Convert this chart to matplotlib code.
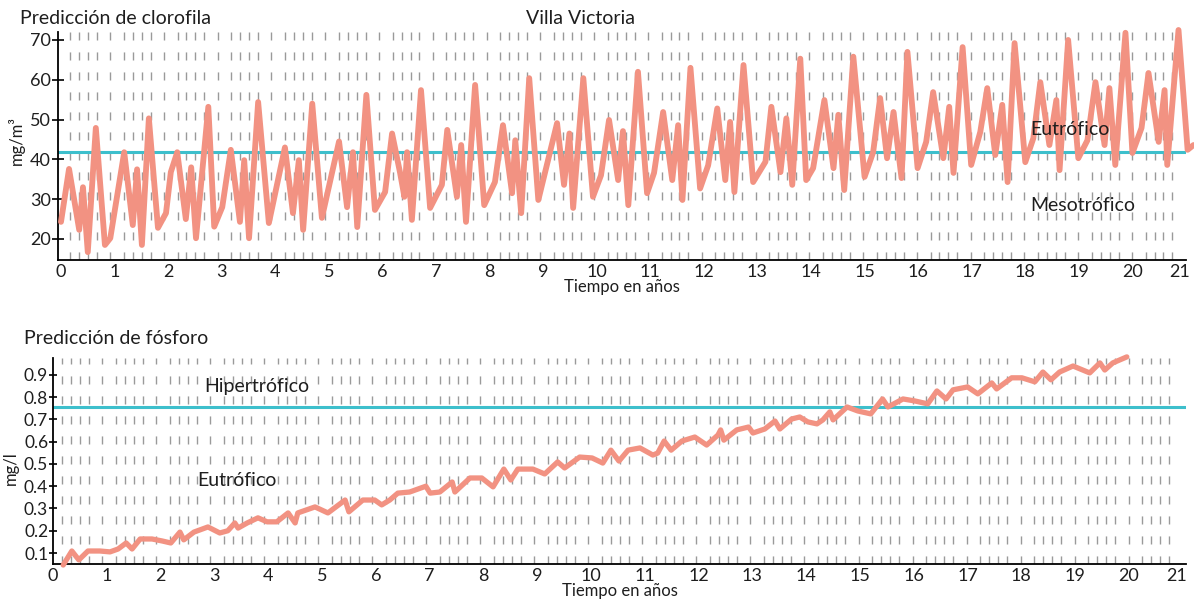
import matplotlib
matplotlib.use("Agg")
import matplotlib.pyplot as plt
import matplotlib.transforms as mtransforms
import numpy as np

plt.rcParams['font.family'] = ['Lato', 'DejaVu Sans']
plt.rcParams['lines.scale_dashes'] = False

# chlorophyll prediction (years, mg/m3)
chl_years = [0.00, 0.15, 0.34, 0.41, 0.50, 0.65, 0.82, 0.92, 1.18, 1.34, 1.42, 1.51, 1.64, 1.81,
             1.96, 2.05, 2.17, 2.33, 2.43, 2.52, 2.75, 2.86, 3.01, 3.17, 3.34, 3.42, 3.51, 3.68,
             3.88, 4.18, 4.33, 4.44, 4.52, 4.69, 4.87, 5.19, 5.34, 5.45, 5.53, 5.70, 5.86, 6.05,
             6.18, 6.33, 6.41, 6.46, 6.55, 6.72, 6.89, 7.11, 7.21, 7.39, 7.47, 7.56, 7.73, 7.90,
             8.10, 8.25, 8.42, 8.48, 8.59, 8.74, 8.91, 9.26, 9.39, 9.49, 9.56, 9.75, 9.93, 10.08,
             10.23, 10.40, 10.49, 10.59, 10.77, 10.94, 11.07, 11.24, 11.41, 11.52, 11.60, 11.75,
             11.93, 12.08, 12.25, 12.40, 12.49, 12.57, 12.74, 12.92, 13.15, 13.26, 13.43, 13.54,
             13.65, 13.80, 13.91, 14.04, 14.25, 14.42, 14.51, 14.62, 14.79, 15.00, 15.16, 15.29,
             15.42, 15.54, 15.69, 15.80, 15.99, 16.15, 16.28, 16.47, 16.58, 16.66, 16.83, 16.99,
             17.16, 17.29, 17.44, 17.57, 17.67, 17.80, 18.00, 18.15, 18.28, 18.45, 18.58, 18.64,
             18.80, 18.99, 19.16, 19.31, 19.48, 19.57, 19.68, 19.87, 20.00, 20.17, 20.30, 20.49,
             20.60, 20.65, 20.86, 21.03, 21.14]
chl_values = [24.3, 37.6, 22.3, 33.0, 16.7, 47.9, 18.5, 20.2, 41.8, 23.5, 37.5, 18.5, 50.3, 22.8,
              26.5, 36.8, 41.8, 25.0, 38.0, 20.2, 53.2, 23.1, 28.0, 42.4, 24.3, 39.8, 20.2, 54.4,
              24.0, 43.0, 26.5, 39.8, 22.3, 54.0, 25.3, 44.5, 28.0, 41.8, 23.0, 56.2, 27.3, 31.8,
              46.5, 36.6, 30.6, 41.8, 24.8, 57.4, 27.8, 33.6, 47.4, 30.6, 43.6, 24.3, 58.7, 28.5,
              34.3, 48.6, 31.5, 44.8, 26.5, 60.4, 29.8, 49.1, 33.6, 46.5, 27.8, 60.4, 30.6, 36.0,
              49.9, 34.8, 47.1, 28.5, 62.0, 31.5, 36.6, 51.9, 34.8, 48.6, 29.8, 63.0,
              32.7, 38.5, 52.8, 34.8, 49.4, 31.8, 63.7, 34.3, 39.4, 53.2, 36.8, 50.3,
              33.6, 65.3, 34.8, 37.8, 54.9, 37.8, 51.2, 32.3, 65.8, 35.6, 41.8, 55.4,
              40.3, 51.9, 35.3, 67.0, 37.8, 44.4, 56.9, 40.3, 53.2, 36.6, 68.2, 38.6,
              46.9, 57.9, 41.1, 53.7, 34.3, 69.2, 39.3, 45.3, 59.4, 43.6, 54.9, 37.3,
              70.0, 40.3, 44.8, 59.4, 43.6, 57.9, 38.6, 71.8, 41.6, 47.9, 61.7, 44.4,
              57.4, 38.6, 72.5, 42.4, 43.6]

# phosphorus prediction (years, mg/l)
p_years = [0.19, 0.35, 0.48, 0.65, 0.87, 1.06, 1.21, 1.36, 1.47, 1.62, 1.84, 2.03, 2.19, 2.36,
           2.43, 2.62, 2.88, 3.10, 3.25, 3.38, 3.44, 3.61, 3.81, 3.98, 4.16, 4.37, 4.50, 4.55,
           4.87, 5.11, 5.43, 5.50, 5.76, 5.98, 6.11, 6.26, 6.41, 6.63, 6.93, 7.01, 7.19, 7.42,
           7.47, 7.75, 7.97, 8.18, 8.38, 8.51, 8.64, 8.92, 9.14, 9.38, 9.51, 9.79, 10.02, 10.22,
           10.37, 10.52, 10.69, 10.91, 11.15, 11.24, 11.36, 11.49, 11.69, 11.93, 12.15, 12.36,
           12.41, 12.47, 12.71, 12.93, 13.01, 13.23, 13.42, 13.51, 13.73, 13.88, 14.03, 14.20,
           14.31, 14.44, 14.50, 14.76, 14.96, 15.20, 15.42, 15.52, 15.80, 16.02, 16.26, 16.43,
           16.60, 16.73, 17.00, 17.19, 17.45, 17.54, 17.82, 18.01, 18.25, 18.40, 18.55, 18.71,
           18.96, 19.27, 19.46, 19.55, 19.70, 19.96]
p_values = [0.046, 0.109, 0.069, 0.109, 0.109, 0.105, 0.118, 0.145, 0.118, 0.163, 0.163, 0.154,
            0.145, 0.194, 0.159, 0.194, 0.217, 0.190, 0.200, 0.235, 0.212, 0.235, 0.258, 0.240,
            0.240, 0.280, 0.235, 0.280, 0.307, 0.280, 0.338, 0.285, 0.338, 0.338, 0.316, 0.338,
            0.369, 0.374, 0.400, 0.369, 0.374, 0.419, 0.374, 0.437, 0.437, 0.397, 0.477, 0.428,
            0.477, 0.477, 0.455, 0.509, 0.482, 0.531, 0.527, 0.504, 0.562, 0.513, 0.562, 0.572,
            0.540, 0.549, 0.603, 0.562, 0.603, 0.621, 0.585, 0.630, 0.653, 0.607, 0.653, 0.666,
            0.639, 0.657, 0.693, 0.657, 0.702, 0.711, 0.689, 0.680, 0.698, 0.734, 0.698, 0.756,
            0.738, 0.725, 0.792, 0.756, 0.792, 0.783, 0.770, 0.828, 0.792, 0.833, 0.846, 0.815,
            0.864, 0.837, 0.887, 0.887, 0.869, 0.913, 0.878, 0.913, 0.940, 0.909, 0.954, 0.922,
            0.954, 0.981]

chl_threshold = 41.9
p_threshold = 0.755

# sampling months marked by the dashed lines
sample_months = [2, 4, 6, 8, 11]
years = np.arange(21)
sample_dates = (years[:, None] + np.array(sample_months) / 12 + 0.004 * years[:, None]).ravel()
sample_dates = sample_dates[sample_dates < 20.8]

salmon = '#F29282'
cyan = '#3DBFCC'
grey = '#9a9a9a'
ink = '#1e1e1e'

fig = plt.figure(figsize=(11.94, 6.07), dpi=100)
ax1 = fig.add_axes([58 / 1194, 1 - 260 / 607, 1128 / 1194, 228 / 607])
ax2 = fig.add_axes([53 / 1194, 1 - 564 / 607, 1133 / 1194, 206 / 607])


def style_axis(ax, ylim, xlim, yticks, fmt, ticklen, ylabelsize):
    ax.set_xlim(*xlim)
    ax.set_ylim(*ylim)
    for s in ['top', 'right']:
        ax.spines[s].set_visible(False)
    for s in ['left', 'bottom']:
        ax.spines[s].set_linewidth(1.3)
    ax.set_xticks(range(22))
    ax.set_yticks(yticks)
    ax.set_yticklabels([fmt.format(v) for v in yticks])
    ax.tick_params(axis='x', length=0, pad=3, labelsize=13, labelcolor=ink)
    ax.tick_params(axis='y', direction='inout', length=ticklen, width=1.2, pad=0.5,
                   labelsize=ylabelsize, labelcolor=ink)
    ax.vlines(sample_dates, ylim[0], ylim[1], colors=grey, linewidth=1.0,
              linestyles=(0, (5.8, 8.6)), zorder=1)
    ax.set_xlabel('Tiempo en años', fontsize=12, labelpad=-1, color=ink)
    # keep the last year label inside the figure
    last = ax.get_xticklabels()[-1]
    last.set_horizontalalignment('right')
    last.set_transform(last.get_transform() +
                       mtransforms.ScaledTranslation(3 / 72, 0, fig.dpi_scale_trans))


style_axis(ax1, (14.72, 72.0), (-0.056, 21.0), [20, 30, 40, 50, 60, 70], '{:.0f}', 9, 13)
ax1.axhline(chl_threshold, color=cyan, linewidth=2.2, zorder=2)
ax1.plot(chl_years, chl_values, color=salmon, linewidth=4.2, solid_joinstyle='round',
         solid_capstyle='round', zorder=3, clip_on=False)
ax1.text(18.1, 47.4, 'Eutrófico', fontsize=14, va='center', ha='left', color=ink)
ax1.text(18.1, 28.5, 'Mesotrófico', fontsize=14, va='center', ha='left', color=ink)
ax1.set_ylabel('mg/m³', fontsize=12, color=ink)
ax1.yaxis.set_label_coords(-0.029, 0.526)

style_axis(ax2, (0.0506, 0.976), (0, 21.06), [0.1, 0.2, 0.3, 0.4, 0.5, 0.6, 0.7, 0.8, 0.9], '{:.1f}',
           6, 12.5)
ax2.axhline(p_threshold, color=cyan, linewidth=2.2, zorder=2)
ax2.plot(p_years, p_values, color=salmon, linewidth=3.8, solid_joinstyle='round',
         solid_capstyle='round', zorder=3, clip_on=False)
ax2.text(2.81, 0.846, 'Hipertrófico', fontsize=14, va='center', ha='left', color=ink)
ax2.text(2.69, 0.424, 'Eutrófico', fontsize=14, va='center', ha='left', color=ink)
ax2.set_ylabel('mg/l', fontsize=12, color=ink)
ax2.yaxis.set_label_coords(-0.03, 0.466)

fig.text(20 / 1194, 1 - 19 / 607, 'Predicción de clorofila', fontsize=14, va='center', ha='left', color=ink)
fig.text(581 / 1194, 1 - 19 / 607, 'Villa Victoria', fontsize=14, va='center', ha='center', color=ink)
fig.text(24 / 1194, 1 - 339 / 607, 'Predicción de fósforo', fontsize=14, va='center', ha='left', color=ink)

fig.savefig('out.png', dpi=100)
